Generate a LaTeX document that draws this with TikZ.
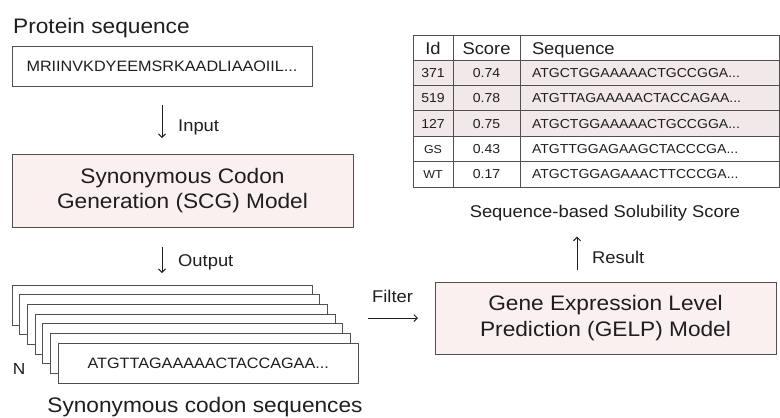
\documentclass[tikz,border=0pt]{standalone}
\usepackage{fontspec}
\setmainfont[FakeStretch=1.08]{Liberation Sans}
\usetikzlibrary{arrows.meta}
\definecolor{txt}{HTML}{1E1E1E}
\definecolor{edge}{HTML}{505050}
\definecolor{pinkfill}{HTML}{FBF0F0}
\definecolor{rowfill}{HTML}{F1E9E9}
\newcommand\tabrow[6]{%
  \node[cell, fill=#6, minimum width=40pt] (id#1) at (413,#2) {#3};
  \node[cell, fill=#6, minimum width=67pt] (sc#1) at (453,#2) {#4};
  \node[cell, fill=#6, seqcell] (sq#1) at (520,#2) {#5};
}
\begin{document}
\begin{tikzpicture}[x=1pt,y=-1pt,
  every node/.style={text=txt},
  lbl/.style={inner sep=0pt, font=\fontsize{17}{20}\selectfont},
  arr/.style={draw=txt, line width=0.9pt, -{Straight Barb[length=3.5pt,width=7pt]}},
  frame/.style={draw=edge, line width=1pt, rectangle, inner sep=0pt, outer sep=0pt},
  model/.style={frame, fill=pinkfill, align=center, font=\fontsize{21}{25.5}\selectfont},
  seqbox/.style={frame, fill=white, minimum width=300pt, minimum height=40pt, font=\fontsize{15}{18}\selectfont},
  cell/.style={draw=edge, line width=1pt, anchor=north west, inner sep=0pt, outer sep=0pt,
    minimum height=25.4pt, text height=9.3pt, text depth=0pt, font=\fontsize{13}{15}\selectfont},
  hdr/.style={minimum height=25pt, text height=14pt, font=\fontsize{17}{20}\selectfont},
  seqcell/.style={text width=235pt, inner xsep=12pt, align=left},
  small/.style={font=\fontsize{11.5}{13}\selectfont}
]
\path[use as bounding box] (0,0) rectangle (780,418);

% Protein sequence
\node[lbl, font=\fontsize{21}{25}\selectfont, anchor=base west] (ptitle) at (13,33) {Protein sequence};
\node[seqbox] (prot) at (162,66) {MRIINVKDYEEMSRKAADLIAAOIIL...};

% SCG model
\node[model, minimum width=341pt, minimum height=73pt] (scg) at (182.5,190.5) {Synonymous Codon\\Generation (SCG) Model};
\draw[arr, shorten <=19pt, shorten >=16pt] (prot.south) -- (prot.south |- scg.north);
\node[lbl, anchor=base west] (inlbl) at (178,131) {Input};

% stack of sequences
\foreach \i in {0,...,5} {
  \node[seqbox] (s\i) at ({162+7.7*\i},{305+9.7*\i}) {};
}
\node[seqbox] (s6) at (208.2,363.2) {ATGTTAGAAAAACTACCAGAA...};
\draw[arr, shorten <=20pt, shorten >=12pt] (scg.south -| s0.north) -- (s0.north);
\node[lbl, anchor=base west] (outlbl) at (178,266) {Output};
\node[lbl, font=\fontsize{16}{18}\selectfont] (nlbl) at (19,369) {N};
\node[lbl, font=\fontsize{21}{25}\selectfont, anchor=base] (stitle) at (205,412) {Synonymous codon sequences};

% GELP model
\node[model, minimum width=341pt, minimum height=72pt] (gelp) at (605.5,318) {Gene Expression Level\\Prediction (GELP) Model};
\draw[arr, shorten <=10pt, shorten >=17pt] (gelp.west -| s6.east) -- (gelp.west);
\node[lbl, anchor=base west] (flbl) at (372,302) {Filter};

% table
\node[cell, hdr, minimum width=40pt] (hid) at (413,35) {Id};
\node[cell, hdr, minimum width=67pt] (hsc) at (453,35) {Score};
\node[cell, hdr, seqcell] (hsq) at (520,35) {Sequence};
\tabrow{371}{60}{371}{0.74}{ATGCTGGAAAAACTGCCGGA...}{rowfill}
\tabrow{519}{85.4}{519}{0.78}{ATGTTAGAAAAACTACCAGAA...}{rowfill}
\tabrow{127}{110.8}{127}{0.75}{ATGCTGGAAAAACTGCCGGA...}{rowfill}
\tabrow{GS}{136.2}{\fontsize{11.5}{13}\selectfont GS}{0.43}{ATGTTGGAGAAGCTACCCGA...}{white}
\tabrow{WT}{161.6}{\fontsize{11.5}{13}\selectfont WT}{0.17}{ATGCTGGAGAAACTTCCCGA...}{white}
\node[lbl, anchor=base] (ttitle) at (605,217) {Sequence-based Solubility Score};

% result arrow
\draw[arr, shorten <=12pt, shorten >=16pt] ([xshift=-28.5pt]gelp.north) -- ([xshift=-28.5pt]gelp.north |- ttitle.south);
\node[lbl, anchor=base west] (rlbl) at (592,263) {Result};
\end{tikzpicture}
\end{document}
